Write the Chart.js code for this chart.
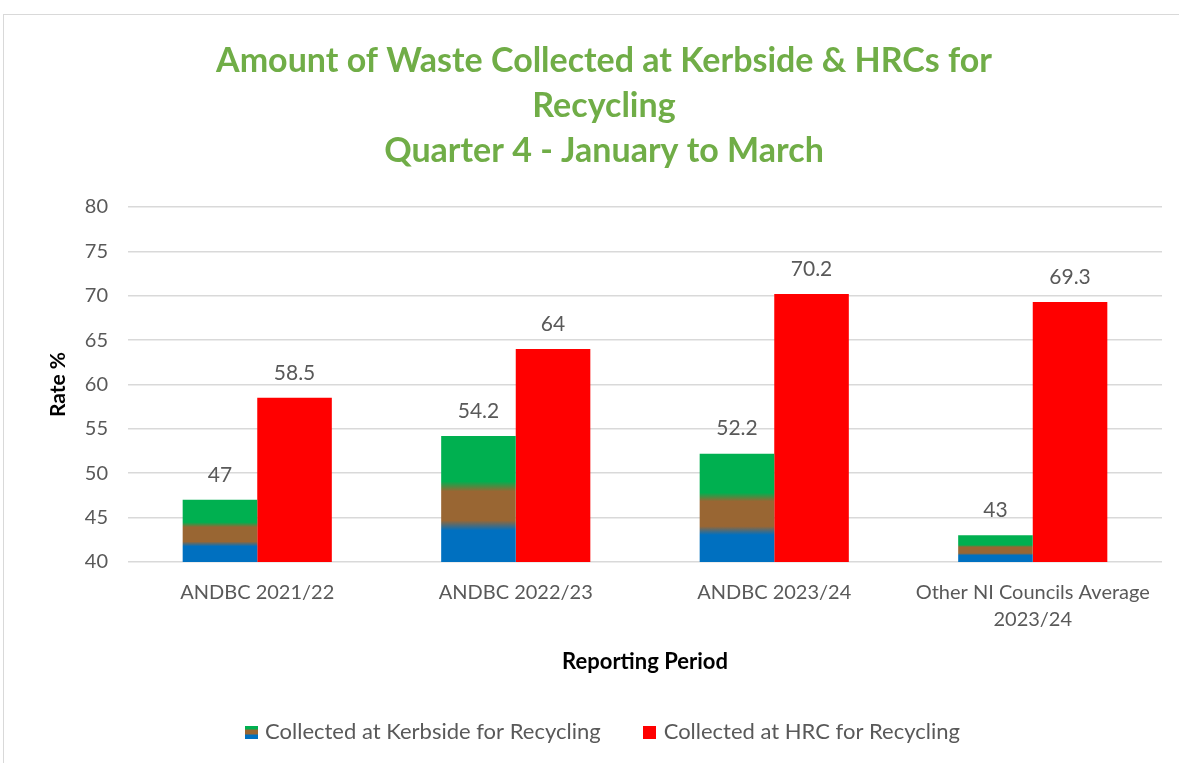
<!DOCTYPE html>
<html lang="en">
  <head>
    <meta charset="UTF-8" />
    <title>Waste Collected for Recycling - Q4</title>
    <script src="https://cdn.jsdelivr.net/npm/chart.js"></script>
    <style>
      body {
        margin: 0;
        background: #fff;
        font-family: Lato, sans-serif;
        overflow: hidden;
      }
      .frame {
        position: absolute;
        left: 3px;
        top: 14px;
        width: 1180px;
        height: 760px;
        border: 1px solid #d9d9d9;
        background: #fff;
      }
      #wasteChart {
        position: absolute;
        left: 0;
        top: 0;
      }
    </style>
  </head>
  <body>
    <div class="frame">
      <canvas id="wasteChart" width="1176" height="748"></canvas>
    </div>

    <script>
      const periods = [
        "ANDBC 2021/22",
        "ANDBC 2022/23",
        "ANDBC 2023/24",
        ["Other NI Councils Average", "2023/24"]
      ];
      const kerbside = [47, 54.2, 52.2, 43];
      const hrc = [58.5, 64, 70.2, 69.3];
      const yTicks = [40, 45, 50, 55, 60, 65, 70, 75, 80];

      const BLUE = "#0070C0";
      const BROWN = "#996633";
      const GREEN = "#00B050";
      const RED = "#FF0000";
      const TEXT = "#595959";

      // kerbside bars fade blue -> brown -> green from base to top
      function kerbFill(ctx) {
        const chart = ctx.chart;
        if (!chart.chartArea || ctx.type !== "data") return GREEN;
        const y = chart.scales.y;
        const top = y.getPixelForValue(ctx.raw);
        const bottom = y.getPixelForValue(y.min);
        if (!isFinite(top) || !isFinite(bottom) || top === bottom) return GREEN;
        const g = chart.ctx.createLinearGradient(0, bottom, 0, top);
        g.addColorStop(0, BLUE);
        g.addColorStop(0.25, BLUE);
        g.addColorStop(0.33, BROWN);
        g.addColorStop(0.56, BROWN);
        g.addColorStop(0.64, GREEN);
        g.addColorStop(1, GREEN);
        return g;
      }

      function swatch(colors) {
        const c = document.createElement("canvas");
        c.width = 13;
        c.height = 13;
        const x = c.getContext("2d");
        const h = 13 / colors.length;
        colors.forEach((col, i) => {
          x.fillStyle = col;
          x.fillRect(0, Math.round(i * h), 13, Math.ceil(h));
        });
        return c;
      }
      const kerbSwatch = swatch([GREEN, BROWN, BLUE]);
      const hrcSwatch = swatch([RED]);

      // value labels above each bar
      const barValues = {
        id: "barValues",
        afterDatasetsDraw(chart) {
          const c = chart.ctx;
          c.save();
          c.font = "21px Lato";
          c.fillStyle = TEXT;
          c.textAlign = "center";
          c.textBaseline = "middle";
          chart.data.datasets.forEach((ds, i) => {
            chart.getDatasetMeta(i).data.forEach((bar, j) => {
              c.fillText(String(ds.data[j]), bar.x, bar.y - 25);
            });
          });
          c.restore();
        }
      };

      // keep the legend row's wide item spacing without its tall box
      const legendHeight = {
        id: "legendHeight",
        beforeInit(chart) {
          const lg = chart.legend;
          if (!lg) return;
          const fit = lg.fit;
          lg.fit = function () {
            fit.call(this);
            this.height = 88;
          };
        }
      };

      new Chart(document.getElementById("wasteChart"), {
        type: "bar",
        data: {
          labels: periods,
          datasets: [
            {
              label: "Collected at Kerbside for Recycling",
              data: kerbside,
              backgroundColor: kerbFill,
              borderWidth: 0
            },
            {
              label: "Collected at HRC for Recycling",
              data: hrc,
              backgroundColor: RED,
              borderWidth: 0
            }
          ]
        },
        plugins: [barValues, legendHeight],
        options: {
          responsive: false,
          animation: false,
          categoryPercentage: 0.577,
          barPercentage: 1,
          layout: { padding: { left: 42, right: 18, top: 24, bottom: 0 } },
          plugins: {
            title: {
              display: true,
              text: [
                "Amount of Waste Collected at Kerbside & HRCs for",
                "Recycling",
                "Quarter 4 - January to March"
              ],
              color: "#70AD47",
              font: { family: "Lato", size: 34, weight: "bold", lineHeight: 1.3235 },
              padding: { top: 0, bottom: 33 }
            },
            legend: {
              position: "bottom",
              labels: {
                color: TEXT,
                font: { family: "Lato", size: 22 },
                usePointStyle: true,
                pointStyleWidth: 6,
                padding: 46,
                generateLabels: () => [
                  { text: "Collected at Kerbside for Recycling", pointStyle: kerbSwatch, fontColor: TEXT, lineWidth: 0, datasetIndex: 0 },
                  { text: "Collected at HRC for Recycling", pointStyle: hrcSwatch, fontColor: TEXT, lineWidth: 0, datasetIndex: 1 }
                ]
              }
            },
            tooltip: { enabled: false }
          },
          scales: {
            x: {
              afterFit: s => { s.height = 113; },
              grid: { display: false, drawTicks: false },
              border: { display: false },
              ticks: { color: TEXT, font: { family: "Lato", size: 20, lineHeight: 1.35 }, padding: 17 },
              title: {
                display: true,
                text: "Reporting Period",
                color: "#000",
                font: { family: "Lato", size: 22, weight: "bold" },
                padding: { top: 16, bottom: 0 }
              }
            },
            y: {
              min: 40,
              max: 80,
              afterBuildTicks: s => { s.ticks = yTicks.map(v => ({ value: v })); },
              afterFit: s => { s.width = 82; },
              grid: { color: "#d9d9d9", lineWidth: 1.5, drawTicks: false },
              border: { display: false },
              ticks: { color: TEXT, font: { family: "Lato", size: 20 }, padding: 20 },
              title: {
                display: true,
                text: "Rate %",
                color: "#000",
                font: { family: "Lato", size: 21, weight: "bold" },
                padding: { top: 0, bottom: 0 }
              }
            }
          }
        }
      });
    </script>
  </body>
</html>
